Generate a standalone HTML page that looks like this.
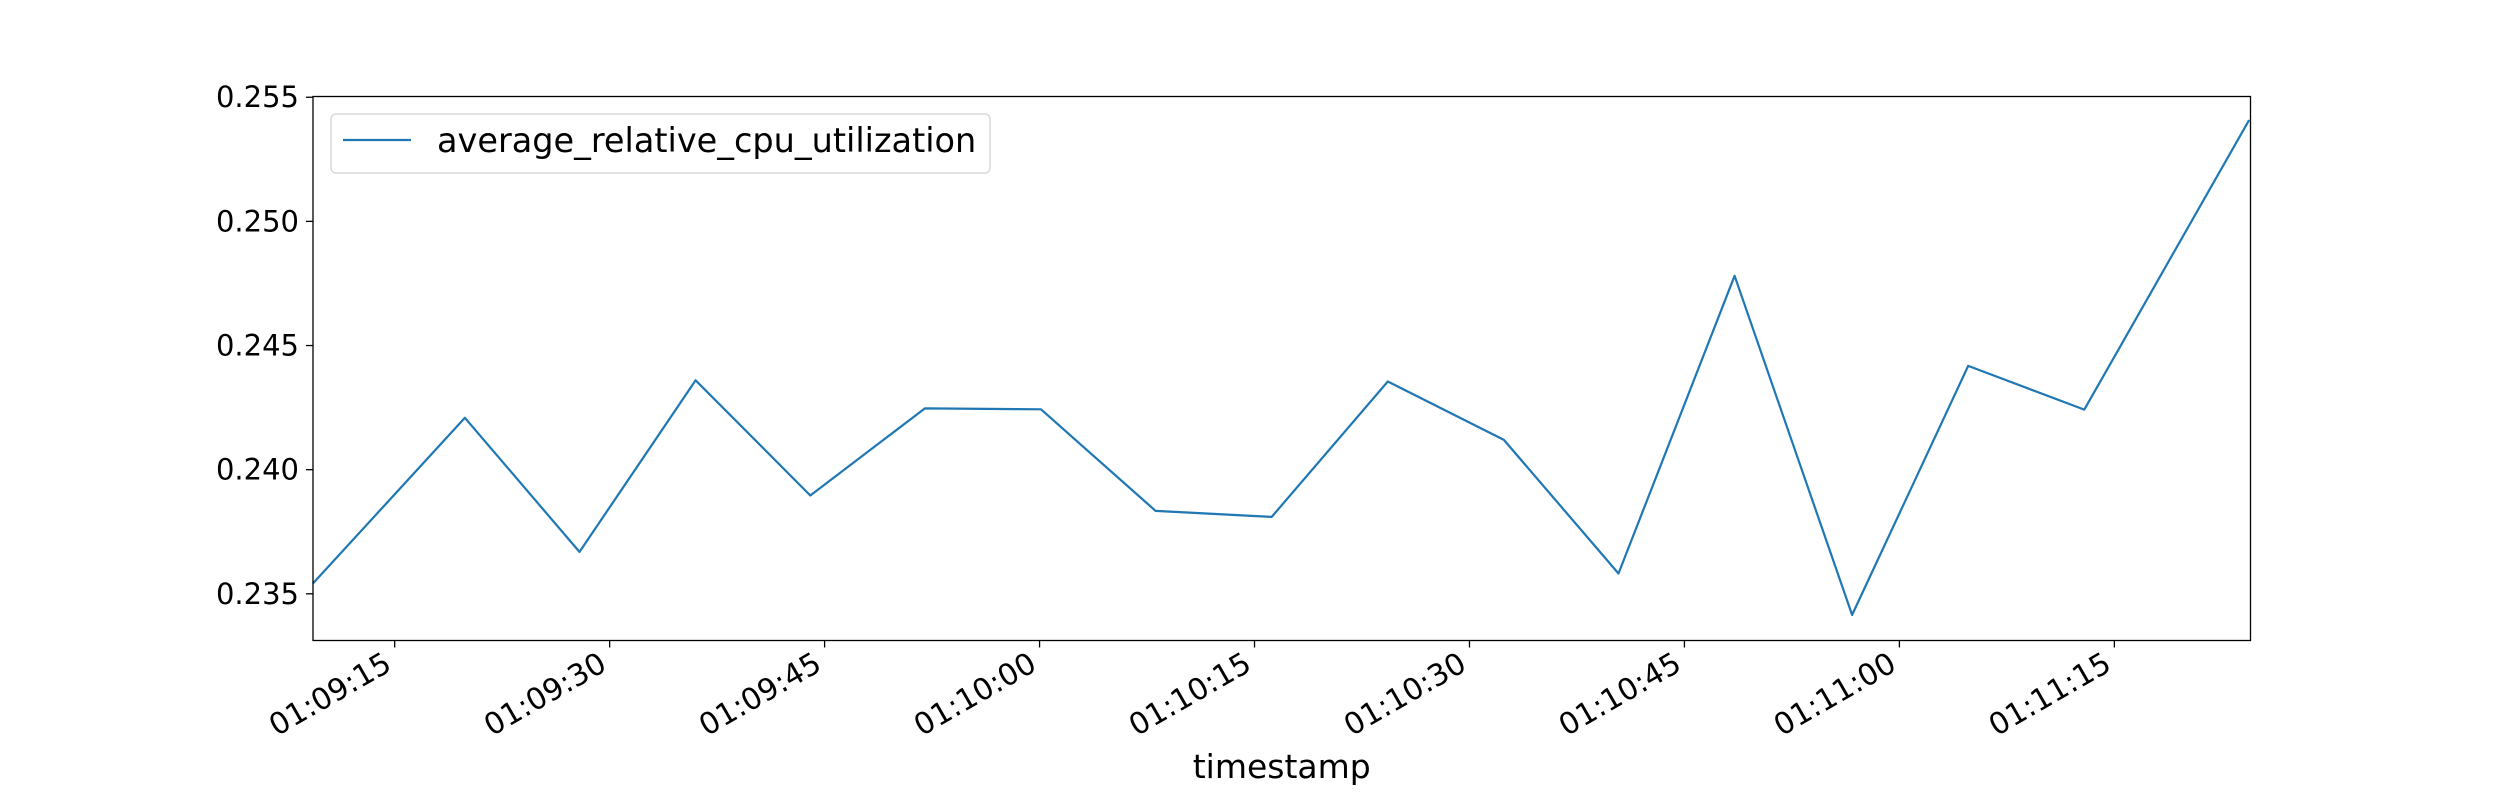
<!DOCTYPE html>
<html><head><meta charset="utf-8"><style>
html,body{margin:0;padding:0;background:#fff;}
svg{display:block;font-family:"DejaVu Sans","Liberation Sans",sans-serif;}
</style></head><body>
<svg id="chart" width="2500" height="800"></svg>
<script>
const times = [9.3,19.9,27.9,36.0,44.0,52.0,60.1,68.1,76.2,84.3,92.4,100.4,108.5,116.7,124.8,132.9,144.4];
const values = [0.23542,0.24209,0.23669,0.24360,0.23896,0.24247,0.24243,0.23834,0.23810,0.24355,0.24120,0.23582,0.24781,0.23415,0.24418,0.24242,0.25408];
const yTicks = [0.235,0.240,0.245,0.250,0.255];
const xTicks = [15,30,45,60,75,90,105,120,135];
const xTickLabels = ["01:09:15","01:09:30","01:09:45","01:10:00","01:10:15","01:10:30","01:10:45","01:11:00","01:11:15"];

const L=313,R=2250.5,T=96.5,B=640.5;
const xMin=9.3,xMax=144.5,yMin=0.23312,yMax=0.25503;
const sx=v=>L+(v-xMin)/(xMax-xMin)*(R-L);
const sy=v=>B-(v-yMin)/(yMax-yMin)*(B-T);
const svg=document.getElementById('chart');
const NS='http://www.w3.org/2000/svg';
function mk(tag,attrs,parent){const e=document.createElementNS(NS,tag);for(const k in attrs)e.setAttribute(k,attrs[k]);(parent||svg).appendChild(e);return e;}

const pts=times.map((t,i)=>sx(t).toFixed(1)+','+sy(values[i]).toFixed(1)).join(' ');
const line=mk('polyline',{points:pts,fill:'none',stroke:'#1f77b4','stroke-width':2.2,'stroke-linejoin':'round'});



const frame=mk('rect',{x:L,y:T,width:R-L,height:B-T,fill:'none',stroke:'#000','stroke-width':1.3});



yTicks.forEach(v=>{
  const y=sy(v);
  const tk=mk('line',{x1:L-7,x2:L,y1:y,y2:y,stroke:'#000','stroke-width':1.3});
  
  
  const tx=mk('text',{x:L-14,y:y+10,'text-anchor':'end','font-size':29,fill:'#000'});
  tx.textContent=v.toFixed(3);
  
  
});
xTicks.forEach((v,i)=>{
  const x=sx(v);
  const tk=mk('line',{x1:x,x2:x,y1:B,y2:B+7,stroke:'#000','stroke-width':1.3});
  
  
  const ax=x-12, ay=B+10;
  const tx=mk('text',{x:ax,y:ay,'text-anchor':'end','font-size':30,fill:'#000',transform:`rotate(-30 ${ax} ${ay})`,'dominant-baseline':'hanging'});
  tx.textContent=xTickLabels[i];
  
  
});
const xl=mk('text',{x:(L+R)/2,y:778,'text-anchor':'middle','font-size':33,fill:'#000'});
xl.textContent='timestamp';



const lg=mk('g',{});


mk('rect',{x:331,y:114,width:659,height:59,rx:5,fill:'#fff',stroke:'#d9d9d9','stroke-width':1.5},lg);
mk('line',{x1:343,x2:411,y1:140,y2:140,stroke:'#1f77b4','stroke-width':2.2},lg);
const lt=mk('text',{x:437,y:152,'font-size':33.5,fill:'#000'},lg);
lt.textContent='average_relative_cpu_utilization';


</script>
</body></html>
